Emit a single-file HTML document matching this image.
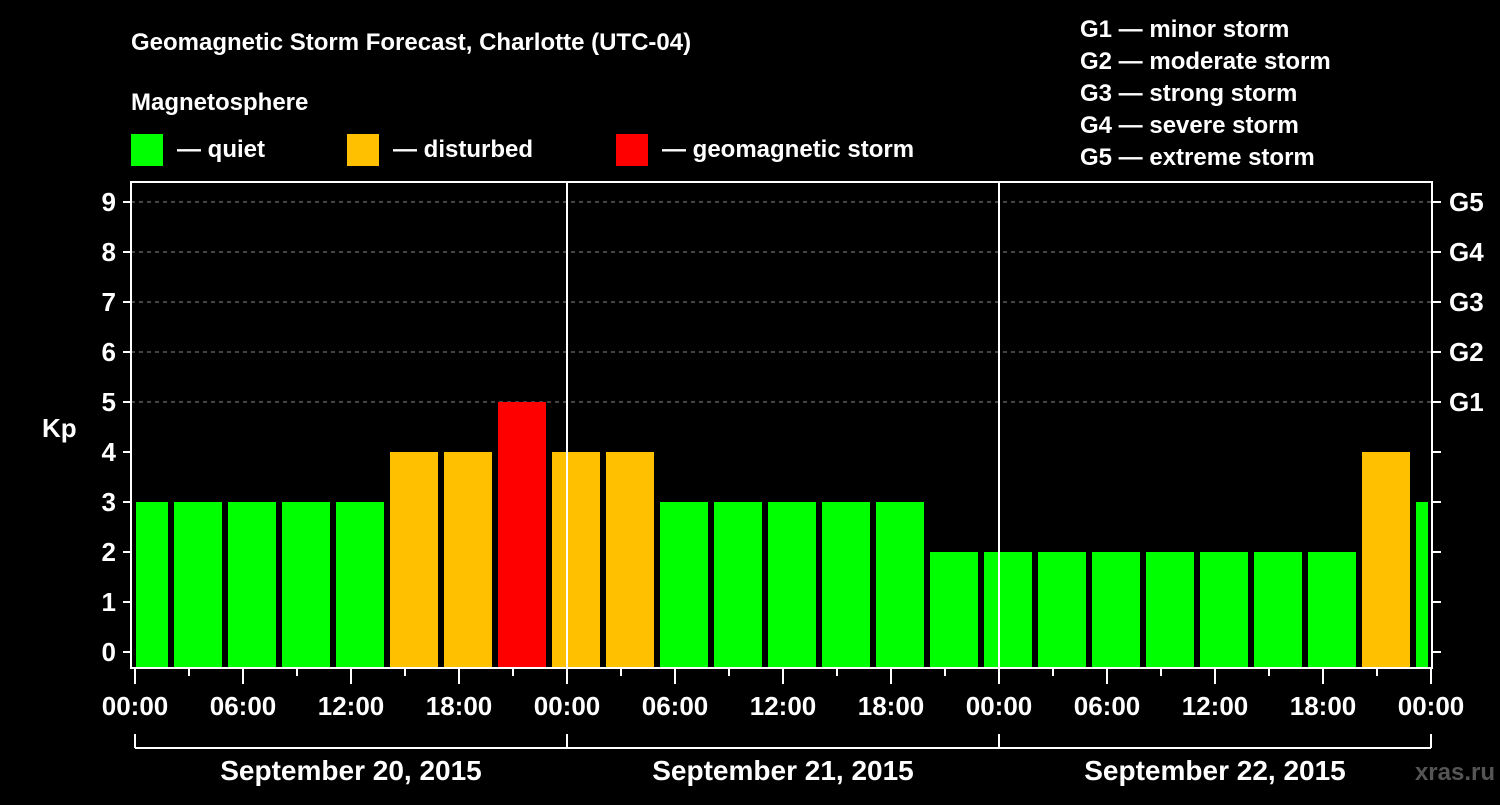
<!DOCTYPE html>
<html><head><meta charset="utf-8"><style>
body{margin:0;background:#000;width:1500px;height:800px;overflow:hidden}
svg text{font-family:"Liberation Sans",Arial,sans-serif;font-weight:bold;fill:#fff}
</style></head><body>
<svg id="c" width="1500" height="800" xmlns="http://www.w3.org/2000/svg">
<text x="131" y="50" font-size="24">Geomagnetic Storm Forecast, Charlotte (UTC-04)</text>
<text x="131" y="110" font-size="24">Magnetosphere</text>
<g><rect x="131" y="134" width="32" height="32" fill="#00ff00"/><text x="177" y="157" font-size="24">— quiet</text></g>
<g><rect x="347" y="134" width="32" height="32" fill="#ffc000"/><text x="393" y="157" font-size="24">— disturbed</text></g>
<g><rect x="616" y="134" width="32" height="32" fill="#ff0000"/><text x="662" y="157" font-size="24">— geomagnetic storm</text></g>
<g font-size="24">
<text x="1080" y="37">G1 — minor storm</text>
<text x="1080" y="69">G2 — moderate storm</text>
<text x="1080" y="101">G3 — strong storm</text>
<text x="1080" y="133">G4 — severe storm</text>
<text x="1080" y="165">G5 — extreme storm</text>
</g>
<text x="42" y="437" font-size="26">Kp</text>
<text x="1495" y="780" font-size="24" text-anchor="end" fill="#555" style="fill:#555">xras.ru</text>
<g id="grid"></g><g id="bars"></g><g id="axes"></g>
</svg>
<script>
const kpValues=[3,3,3,3,3,4,4,5,4,4,3,3,3,3,3,2,2,2,2,2,2,2,2,4,3];
const yTicks=[0,1,2,3,4,5,6,7,8,9];
const gLabels=["G1","G2","G3","G4","G5"];
const xTickLabels=["00:00","06:00","12:00","18:00","00:00","06:00","12:00","18:00","00:00","06:00","12:00","18:00","00:00"];
const dayLabels=["September 20, 2015","September 21, 2015","September 22, 2015"];
const startHour=-1, stepHours=3;
const X0=135,X1=1431,TOP=182,BOT=668,totalH=72;
const xs=h=>X0+(X1-X0)*h/totalH;
const ys=v=>652-50*v;
const NS="http://www.w3.org/2000/svg";
function mk(p,t,a){const e=document.createElementNS(NS,t);for(const k in a)e.setAttribute(k,a[k]);p.appendChild(e);return e;}
const grid=document.getElementById('grid'),bars=document.getElementById('bars'),axes=document.getElementById('axes');
for(let v=5;v<=9;v++){const l=mk(grid,'line',{x1:131,x2:1432,y1:ys(v),y2:ys(v),stroke:'#888','stroke-dasharray':'4,4','stroke-width':1});

}
kpValues.forEach((v,i)=>{
 const h0=startHour+i*stepHours,h1=h0+stepHours;
 let a=xs(h0)+3,b=xs(h1)-3;
 if(h0<0)a=xs(0)+1; if(h1>totalH)b=xs(totalH)-3;
 const col=v>=5?'#ff0000':(v>=4?'#ffc000':'#00ff00');
 const r=mk(bars,'rect',{x:a,y:ys(v),width:b-a,height:BOT-ys(v),fill:col});
 
 
});
// frame
mk(axes,'rect',{x:131,y:TOP,width:1301,height:BOT-TOP,fill:'none',stroke:'#fff','stroke-width':2});
[1,2].forEach(d=>{const l=mk(axes,'line',{x1:xs(d*24),x2:xs(d*24),y1:TOP,y2:BOT,stroke:'#fff','stroke-width':2});

});
yTicks.forEach(v=>{
 mk(axes,'line',{x1:123,x2:131,y1:ys(v),y2:ys(v),stroke:'#fff','stroke-width':2});
 mk(axes,'line',{x1:1432,x2:1441,y1:ys(v),y2:ys(v),stroke:'#fff','stroke-width':2});
 const t=mk(axes,'text',{x:116,y:ys(v)+9,'font-size':26,'text-anchor':'end'});t.textContent=v;
 
 
});
gLabels.forEach((g,i)=>{const t=mk(axes,'text',{x:1449,y:ys(5+i)+9,'font-size':26});t.textContent=g;
 
 });
for(let h=0;h<=totalH;h+=3){const maj=h%6===0;mk(axes,'line',{x1:xs(h),x2:xs(h),y1:BOT,y2:BOT+(maj?16:8),stroke:'#fff','stroke-width':2});}
xTickLabels.forEach((s,i)=>{const t=mk(axes,'text',{x:xs(i*6),y:715,'font-size':26,'text-anchor':'middle'});t.textContent=s;
 
 });
mk(axes,'line',{x1:X0,x2:X1,y1:748,y2:748,stroke:'#fff','stroke-width':2});
for(let d=0;d<=3;d++)mk(axes,'line',{x1:xs(d*24),x2:xs(d*24),y1:734,y2:748,stroke:'#fff','stroke-width':2});
dayLabels.forEach((s,i)=>{const t=mk(axes,'text',{x:xs(i*24+12),y:780,'font-size':28,'text-anchor':'middle'});t.textContent=s;
 
 });
</script>
</body></html>
